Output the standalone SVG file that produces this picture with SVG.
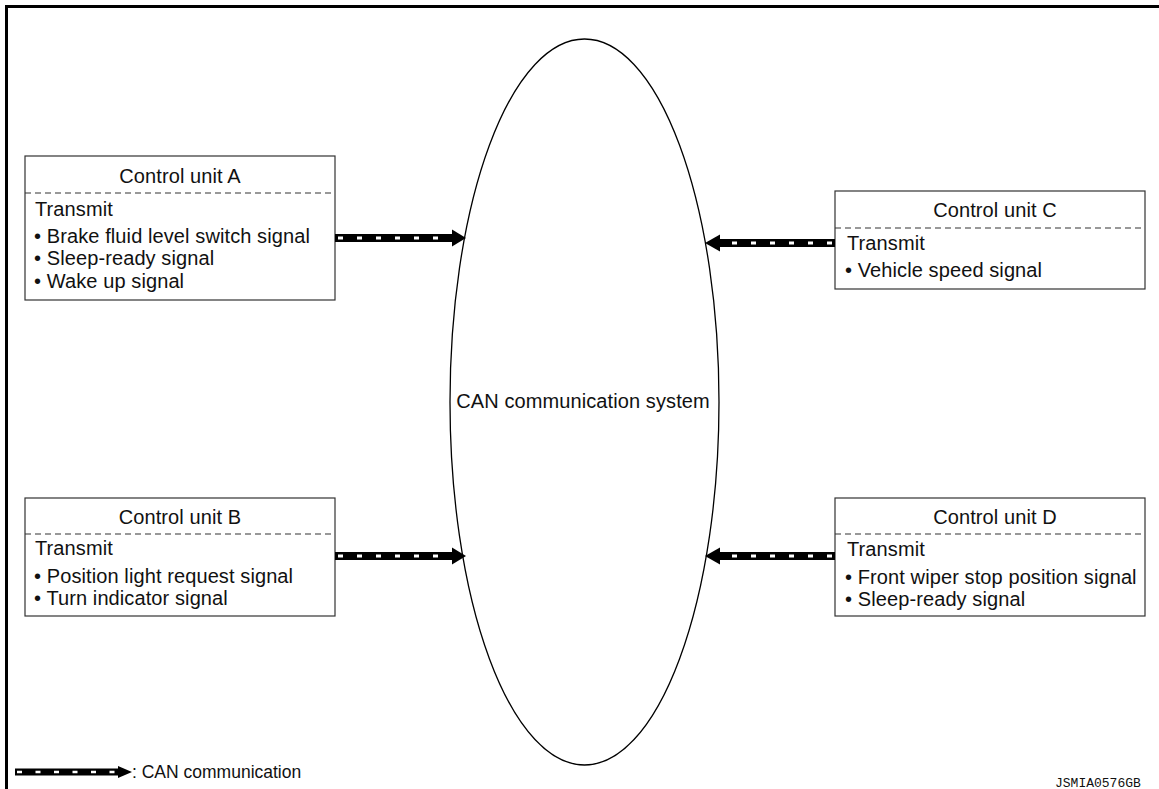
<svg xmlns="http://www.w3.org/2000/svg" width="1159" height="789" viewBox="0 0 1159 789">
<style>
text{font-family:"Liberation Sans",Arial,Helvetica,sans-serif;fill:#111}
.t{font-size:20px;letter-spacing:0.1px}
.h{font-size:20px;letter-spacing:0.1px;text-anchor:middle}
.box{fill:#fff;stroke:#333;stroke-width:1.2}
.div{stroke:#333;stroke-width:1.2;stroke-dasharray:6 4;fill:none}
.bar{fill:#000}
.dash{stroke:#fff;stroke-width:3;stroke-dasharray:5 14;stroke-dashoffset:-3;fill:none}
.head{fill:#000}
.frame{stroke:#000;stroke-width:3;fill:none}
</style>
<rect width="1159" height="789" fill="#fff"/>
<g id="frame">
<path class="frame" d="M6.5,789 V6.5 H1159"/>
</g>
<g id="can-system">
<ellipse cx="584.5" cy="402" rx="134.5" ry="363" fill="none" stroke="#000" stroke-width="1.3"/>
<text class="h" x="583" y="408">CAN communication system</text>
</g>
<g id="unit-a">
<rect class="box" x="25" y="156" width="310" height="144"/>
<line class="div" x1="25" y1="193" x2="335" y2="193"/>
<text class="h" x="180" y="183">Control unit A</text>
<text class="t" x="35" y="216">Transmit</text>
<text class="t" x="34" y="243">• Brake fluid level switch signal</text>
<text class="t" x="34" y="265">• Sleep-ready signal</text>
<text class="t" x="34" y="288">• Wake up signal</text>
</g>
<g id="unit-b">
<rect class="box" x="25" y="498" width="310" height="118"/>
<line class="div" x1="25" y1="534" x2="335" y2="534"/>
<text class="h" x="180" y="524">Control unit B</text>
<text class="t" x="35" y="555">Transmit</text>
<text class="t" x="34" y="583">• Position light request signal</text>
<text class="t" x="34" y="605">• Turn indicator signal</text>
</g>
<g id="unit-c">
<rect class="box" x="835" y="191" width="310" height="98"/>
<line class="div" x1="835" y1="228" x2="1145" y2="228"/>
<text class="h" x="995" y="217">Control unit C</text>
<text class="t" x="847" y="250">Transmit</text>
<text class="t" x="845" y="277">• Vehicle speed signal</text>
</g>
<g id="unit-d">
<rect class="box" x="835" y="498" width="310" height="118"/>
<line class="div" x1="835" y1="534" x2="1145" y2="534"/>
<text class="h" x="995" y="524">Control unit D</text>
<text class="t" x="847" y="556">Transmit</text>
<text class="t" x="845" y="584">• Front wiper stop position signal</text>
<text class="t" x="845" y="606">• Sleep-ready signal</text>
</g>
<g id="connectors">
<g id="a-to-can">
<rect class="bar" x="335" y="234" width="118" height="8"/>
<line class="dash" x1="335" y1="238" x2="453" y2="238"/>
<polygon class="head" points="452,229.5 466,238 452,246.5"/>
</g>
<g id="b-to-can">
<rect class="bar" x="335" y="552" width="118" height="8"/>
<line class="dash" x1="335" y1="556" x2="453" y2="556"/>
<polygon class="head" points="452,547.5 466,556 452,564.5"/>
</g>
<g id="c-to-can">
<rect class="bar" x="719" y="239" width="116" height="8"/>
<line class="dash" x1="835" y1="243" x2="719" y2="243"/>
<polygon class="head" points="720,234.5 705,243 720,251.5"/>
</g>
<g id="d-to-can">
<rect class="bar" x="719" y="552" width="116" height="8"/>
<line class="dash" x1="835" y1="556" x2="719" y2="556"/>
<polygon class="head" points="720,547.5 705,556 720,564.5"/>
</g>
</g>
<g id="legend">
<rect class="bar" x="15" y="768.5" width="104" height="7"/>
<line x1="17" y1="772" x2="118" y2="772" stroke="#fff" stroke-width="2.5" stroke-dasharray="5 13.5"/>
<polygon class="head" points="118,766 132,772 118,778"/>
<text x="132" y="778" style="font-size:17.5px">: CAN communication</text>
</g>
<g id="code">
<text x="1055" y="787" style="font-family:'Liberation Mono','Courier New',monospace;font-size:13px">JSMIA0576GB</text>
</g>
</svg>
